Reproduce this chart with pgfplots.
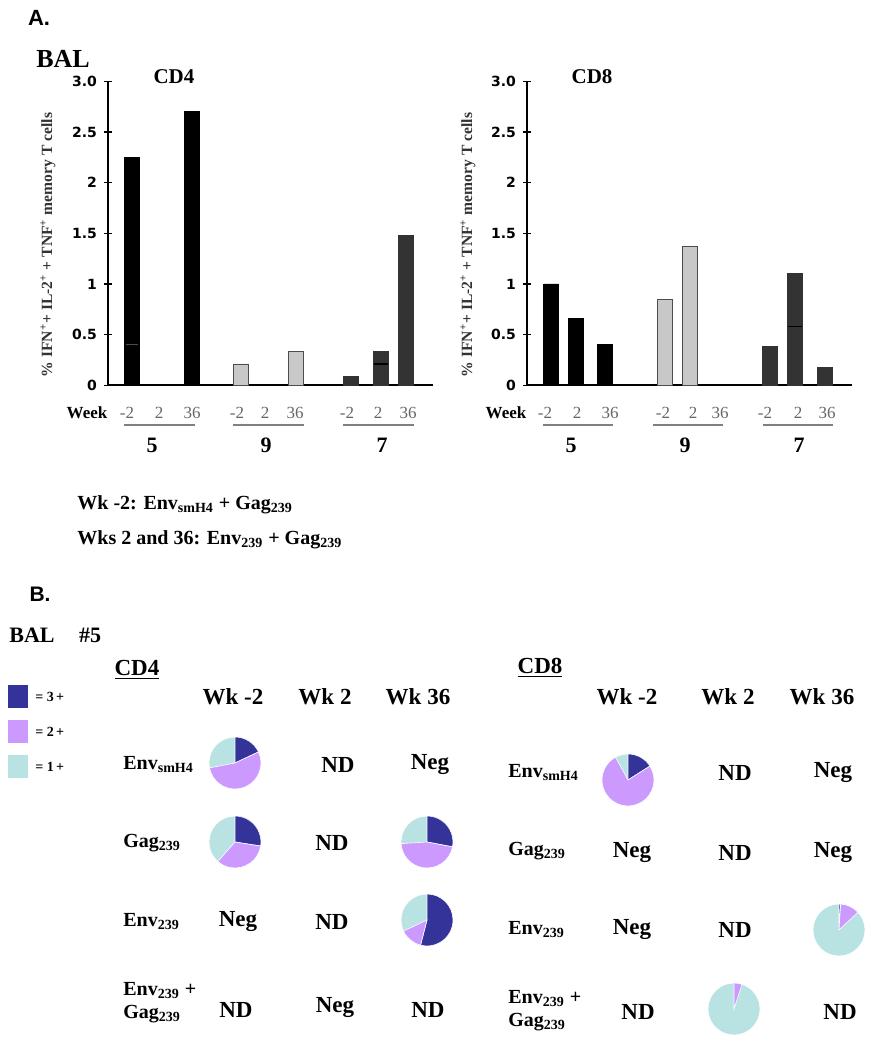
\documentclass[border=0pt]{standalone}
\usepackage{fontspec}
\setmainfont{Liberation Serif}
\newfontfamily\hfont{Liberation Sans}
\newfontfamily\tfont{DejaVu Sans}
\usepackage{pgfplots}
\pgfplotsset{compat=1.18}

\definecolor{three}{HTML}{333399}
\definecolor{two}{HTML}{CC99FF}
\definecolor{one}{HTML}{B9E2E2}
\definecolor{lgray}{HTML}{C8C8C8}
\definecolor{dgray}{HTML}{333333}

\newcommand\fs[1]{\fontsize{#1}{#1}\selectfont}
\newcommand\sub[1]{\textsubscript{#1}}

% pie: x, y (px from top), share of 3+, share of 2+ (percent); 1+ is the rest
\newcommand\pie[4]{%
  \fill[one, draw=white, line width=0.3pt] (axis cs:#1,#2) circle[radius=13pt];
  \fill[three, draw=white, line width=0.3pt] (axis cs:#1,#2) -- ++(90:13pt)
     arc[start angle=90, end angle={90-3.6*#3}, radius=13pt] -- cycle;
  \fill[two, draw=white, line width=0.3pt] (axis cs:#1,#2) -- ++({90-3.6*#3}:13pt)
     arc[start angle={90-3.6*#3}, end angle={90-3.6*(#3+#4)}, radius=13pt] -- cycle;
}

\pgfplotsset{barax/.style={
  scale only axis, width=162.5pt, height=152pt, anchor=south west,
  xmin=#1, xmax=#1+325, ymin=0, ymax=3,
  axis x line=bottom, axis y line=left,
  axis line style={-, line width=0.8pt},
  xtick=\empty,
  ytick={0,0.5,1,1.5,2,2.5,3}, yticklabels={0,0.5,1,1.5,2,2.5,3.0},
  tick align=center, major tick length=4pt,
  tick style={line width=0.7pt, black},
  yticklabel style={font=\tfont\bfseries\fs{7}},
  /pgf/number format/assume math mode=true,
  clip=false,
}}
\pgfplotsset{bars/.style={ybar, bar width=7.5pt, bar shift=0pt}}

\begin{document}
\begin{tikzpicture}[x=0.5pt, y=0.5pt]
\useasboundingbox (0,0) rectangle (873,1050);

% ---------- A: CD4 ----------
\begin{axis}[barax=108, at={(108,656)}]
  \addplot[bars, fill=black, draw=black] coordinates {(132,2.25) (192,2.70)};
  \addplot[bars, fill=lgray, draw=black!70] coordinates {(241,0.21) (296,0.33)};
  \addplot[bars, fill=dgray, draw=black!80] coordinates {(351,0.09) (381,0.33) (406,1.48)};
  \draw[black!70, line width=0.5pt] (axis cs:132,0.40) ++(-3pt,0pt) -- ++(6pt,0pt);
  \draw[black, line width=0.6pt] (axis cs:381,0.21) ++(-3.5pt,0pt) -- ++(7pt,0pt);
\end{axis}

% ---------- A: CD8 ----------
\begin{axis}[barax=527, at={(527,656)}]
  \addplot[bars, fill=black, draw=black] coordinates {(551,1.00) (576,0.66) (605,0.40)};
  \addplot[bars, fill=lgray, draw=black!70] coordinates {(665,0.85) (690,1.37)};
  \addplot[bars, fill=dgray, draw=black!80] coordinates {(770,0.385) (795,1.10) (825,0.18)};
  \draw[black, line width=0.6pt] (axis cs:795,0.58) ++(-3.5pt,0pt) -- ++(7pt,0pt);
\end{axis}

% ---------- B: pies ----------
\begin{axis}[at={(0,0)}, anchor=south west, scale only axis,
  width=436.5pt, height=225pt, xmin=0, xmax=873, ymin=600, ymax=1050,
  y dir=reverse, hide axis, clip=false]
  % legend squares
  \fill[three] (axis cs:8,685) rectangle (axis cs:28,708);
  \fill[two]   (axis cs:8,720) rectangle (axis cs:28,743);
  \fill[one]   (axis cs:8,755) rectangle (axis cs:28,778);
  % CD4
  \pie{235}{763}{18}{54}
  \pie{235}{842}{27.5}{34}
  \pie{427}{842}{28}{46}
  \pie{427}{920}{54}{14}
  % CD8
  \pie{628}{780}{16}{76}
  \pie{839}{930}{1}{12}
  \pie{734}{1009}{0}{5}
\end{axis}

% ---------- text, placed in pixels from the top ----------
\begin{scope}[shift={(0,1050)}, yscale=-1]
\node[font=\hfont\bfseries\fs{11}] at (39,18) {A.};
\node[font=\bfseries\fs{13}] at (63,59) {BAL};
\node[font=\bfseries\fs{10.5}] at (174,77) {CD4};
\node[font=\bfseries\fs{10.5}] at (592,77) {CD8};
\foreach \xx in {48,468}
  \node[font=\bfseries\fs{7.8}, text=black!80, rotate=90] at (\xx,245)
    {\% IFN\textsuperscript{+}+ IL-2\textsuperscript{+} + TNF\textsuperscript{+} memory T cells};
\node[font=\bfseries\fs{8.5}] at (87,413) {Week};
\node[font=\bfseries\fs{8.5}] at (506,413) {Week};
\foreach \xx/\lab in {127/-2,159/2,192/36,237/-2,265/2,295/36,347/-2,378/2,408/36,
                      545/-2,577/2,610/36,663/-2,693/2,720/36,765/-2,798/2,827/36}
  \node[font=\fs{8.5}, text=black!60] at (\xx,413) {\lab};
\foreach \a/\b in {124/195,233/304,343/414,543/613,653/723,763/833}
  \draw[gray, line width=0.6pt] (\a,425) -- (\b,425);
\foreach \xx/\lab in {152/5,266/9,382/7,571/5,685/9,799/7}
  \node[font=\bfseries\fs{11}] at (\xx,445) {\lab};

\node[font=\bfseries\fs{10}, anchor=west, inner sep=0pt] at (77,505) {Wk -2: Env\sub{smH4} + Gag\sub{239}};
\node[font=\bfseries\fs{10}, anchor=west, inner sep=0pt] at (77,540) {Wks 2 and 36: Env\sub{239} + Gag\sub{239}};

\node[font=\hfont\bfseries\fs{10.5}] at (40,594) {B.};
\node[font=\bfseries\fs{11}] at (32,635) {BAL};
\node[font=\bfseries\fs{11}] at (90,635) {\#5};
\node[font=\bfseries\fs{11.5}] at (137,670) {\underline{CD4}};
\node[font=\bfseries\fs{11.5}] at (540,668) {\underline{CD8}};
\foreach \yy/\lab in {697/3,732/2,767/1}
  \node[font=\bfseries\fs{7}, anchor=west, inner sep=0pt] at (35,\yy) {= \lab\,+};
\foreach \xx/\lab in {233/{Wk -2},325/{Wk 2},418/{Wk 36},627/{Wk -2},728/{Wk 2},822/{Wk 36}}
  \node[font=\bfseries\fs{11.5}] at (\xx,697) {\lab};

\begin{scope}[every node/.style={font=\bfseries\fs{10}, anchor=west, inner sep=0pt}]
  \foreach \xx/\d in {123/0,508/8} {
    \node at (\xx,765+\d) {Env\sub{smH4}};
    \node at (\xx,843+\d) {Gag\sub{239}};
    \node at (\xx,922+\d) {Env\sub{239}};
    \node[align=left] at (\xx,1003+\d) {Env\sub{239} +\\[1.5pt]Gag\sub{239}};
  }
\end{scope}
\begin{scope}[every node/.style={font=\bfseries\fs{11.5}}]
  \node at (338,765) {ND};  \node at (430,765) {Neg};
  \node at (332,843) {ND};
  \node at (238,922) {Neg}; \node at (332,922) {ND};
  \node at (236,1010) {ND}; \node at (335,1008) {Neg}; \node at (428,1010) {ND};
  \node at (735,773) {ND};  \node at (833,773) {Neg};
  \node at (632,853) {Neg}; \node at (735,853) {ND}; \node at (833,853) {Neg};
  \node at (632,930) {Neg}; \node at (735,930) {ND};
  \node at (638,1012) {ND}; \node at (840,1012) {ND};
\end{scope}
\end{scope}
\end{tikzpicture}
\end{document}
